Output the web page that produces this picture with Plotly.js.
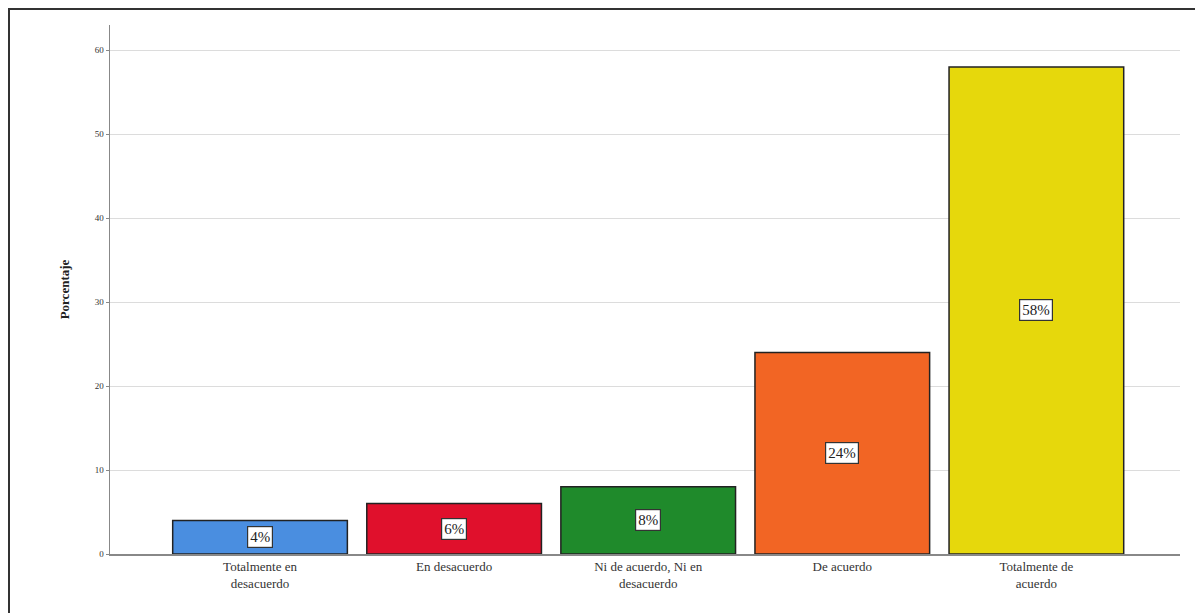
<!DOCTYPE html>
<html>
<head>
<meta charset="utf-8">
<script src="https://cdn.plot.ly/plotly-3.0.1.min.js"></script>
<style>
html,body{margin:0;padding:0;overflow:hidden;background:#fff;}
#chart{width:1195px;height:613px;position:absolute;left:0;top:0;}
#frame{position:absolute;left:8px;top:8px;width:1210px;height:640px;border:2px solid #333;pointer-events:none;}
</style>
</head>
<body>
<div id="chart"></div>
<div id="frame"></div>
<script>
const categories = ["Totalmente en<br>desacuerdo", "En desacuerdo", "Ni de acuerdo, Ni en<br>desacuerdo", "De acuerdo", "Totalmente de<br>acuerdo"];
const values = [4, 6, 8, 24, 58];
const labels = ["4%", "6%", "8%", "24%", "58%"];
const colors = ["#4a8ee0", "#e0102c", "#1f8a2b", "#f26524", "#e6d80c"];
const yTicks = [0, 10, 20, 30, 40, 50, 60];

const serif = "Liberation Serif, Times New Roman, serif";

const trace = {
  type: "bar",
  x: categories.map((c, i) => i),
  y: values,
  width: 0.9,
  marker: {color: colors, line: {color: "#222", width: 1.5}},
  hoverinfo: "skip"
};

const annotations = values.map((v, i) => ({
  x: i, y: v / 2, xref: "x", yref: "y",
  text: labels[i], showarrow: false,
  bgcolor: "#ffffff", bordercolor: "#333", borderwidth: 1.2, borderpad: 2,
  font: {family: serif, size: 15, color: "#222"}
}));

const layout = {
  width: 1195, height: 613,
  margin: {l: 110, r: 15, t: 25, b: 59},
  paper_bgcolor: "#fff", plot_bgcolor: "#fff",
  showlegend: false,
  bargap: 0.1,
  xaxis: {
    range: [-0.773, 4.74],
    tickvals: categories.map((c, i) => i),
    ticktext: categories,
    showgrid: false, zeroline: false,
    showline: true, linecolor: "#888", linewidth: 1.5,
    ticks: "",
    tickfont: {family: serif, size: 13, color: "#333"}
  },
  yaxis: {
    range: [0, 63],
    tickvals: yTicks,
    showgrid: true, gridcolor: "#dcdcdc", gridwidth: 1,
    zeroline: false,
    showline: true, linecolor: "#888", linewidth: 1.5,
    ticks: "outside", ticklen: 3, tickcolor: "#888",
    tickfont: {family: serif, size: 9, color: "#333"},
    title: {text: "<b>Porcentaje</b>", font: {family: serif, size: 13, color: "#222"}, standoff: 22}
  },
  annotations: annotations
};

Plotly.newPlot("chart", [trace], layout, {displayModeBar: false, staticPlot: true});
</script>
</body>
</html>
